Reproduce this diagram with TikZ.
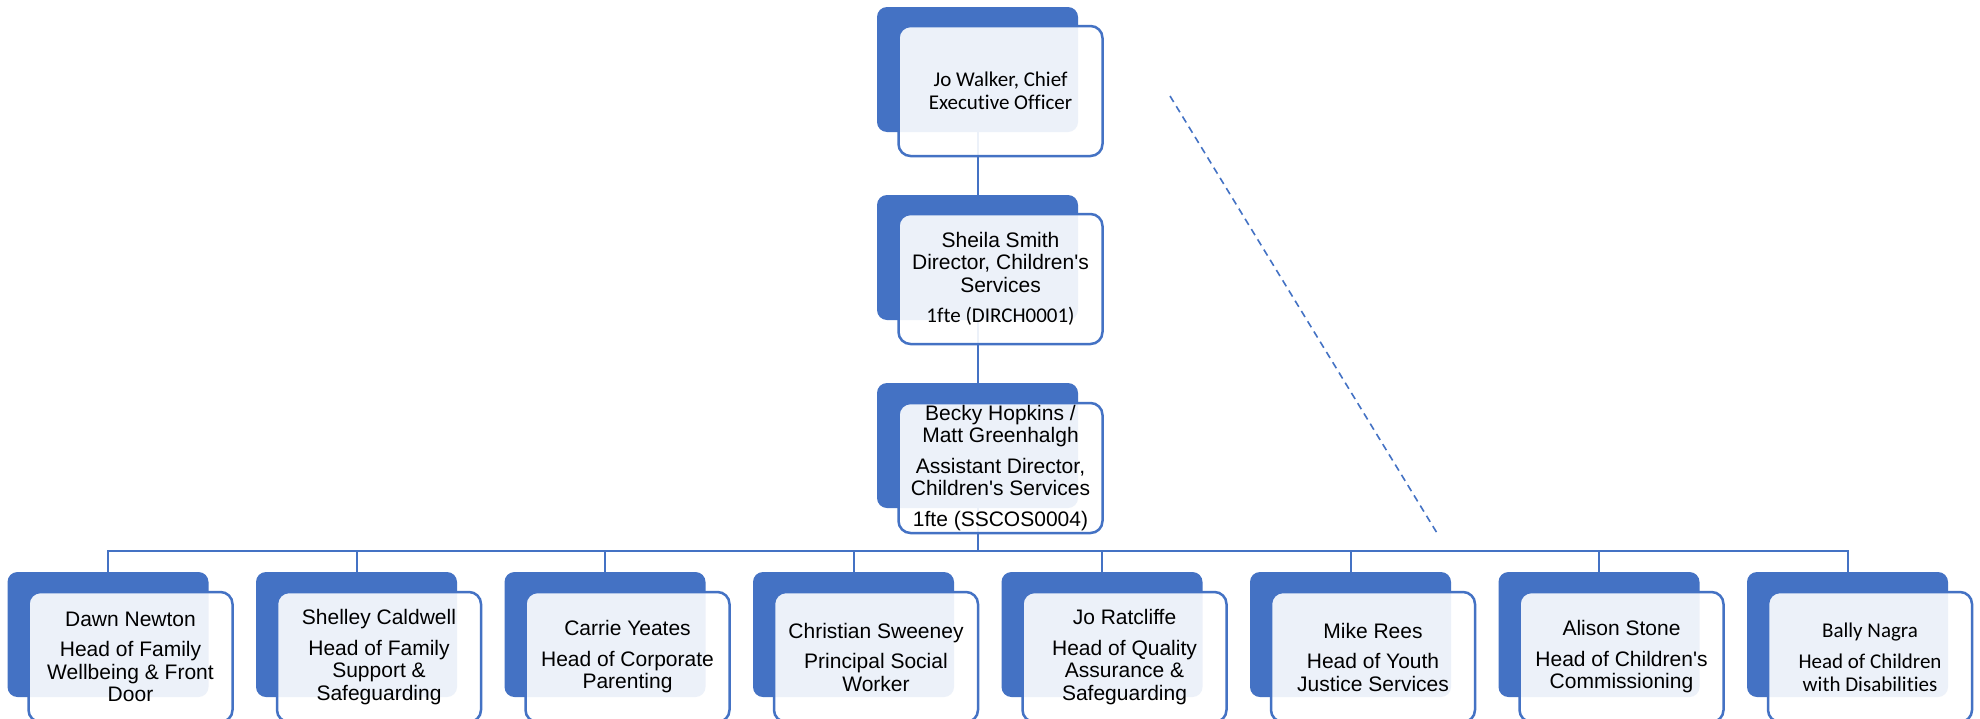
\documentclass[tikz,border=0pt]{standalone}
\usepackage{fontspec}
\setmainfont{Liberation Sans}[Ligatures=TeXOff]
\newfontfamily\calfont{Carlito}[Ligatures=NoCommon]
\definecolor{accent}{HTML}{4472C4}
\tikzset{
 backbox/.style={fill=accent, rounded corners=10pt, minimum width=201pt, minimum height=125pt, inner sep=0pt, outer sep=0pt},
 frontbox/.style={draw=accent, line width=2.5pt, fill=white, fill opacity=0.9, text opacity=1, rounded corners=12pt, minimum width=204pt, minimum height=130pt, inner sep=0pt, outer sep=0pt, align=center, font=\fontsize{21}{22.5}\selectfont},
 link/.style={draw=accent, line width=2pt},
 dashlink/.style={draw=accent, line width=1.6pt, dash pattern=on 7pt off 5pt}
}
\begin{document}
\begin{tikzpicture}[x=1pt,y=-1pt]
\clip (0,0) rectangle (1980,718);
\fill[white] (0,0) rectangle (1980,718);
% back boxes
\node[backbox] (b1) at (977.5,69.5) {};
\node[backbox] (b2) at (977.5,257.5) {};
\node[backbox] (b3) at (977.5,445.5) {};
\node[backbox] (c1) at (108,634.5) {};
\node[backbox] (c2) at (356.5,634.5) {};
\node[backbox] (c3) at (605,634.5) {};
\node[backbox] (c4) at (853.5,634.5) {};
\node[backbox] (c5) at (1102,634.5) {};
\node[backbox] (c6) at (1350.5,634.5) {};
\node[backbox] (c7) at (1599,634.5) {};
\node[backbox] (c8) at (1847.5,634.5) {};
% connectors
\coordinate (bus) at (977.5,551);
\draw[link] (b1.south) -- (b2.north);
\draw[link] (b2.south) -- (b3.north);
\draw[link] (b3.south) -- (bus);
\foreach \i in {1,...,8} { \draw[link] (bus) -| (c\i.north); }
\coordinate (d1) at (1170,96);
\coordinate (d2) at (1437,533);
\draw[dashlink] (d1) -- (d2);
% front boxes
\node[frontbox, font=\calfont\fontsize{21}{23}\selectfont] (f1) at (1000.5,91) {Jo Walker, Chief\\Executive Officer};
\node[frontbox] (f2) at (1000.5,279) {Sheila Smith\\Director, Children's\\Services\\[8pt]\calfont 1fte (DIRCH0001)};
\node[frontbox] (f3) at (1000.5,468) {Becky Hopkins /\\Matt Greenhalgh\\[8pt]Assistant Director,\\Children's Services\\[8pt]1fte (SSCOS0004)};
\node[frontbox] (g1) at (130.5,657) {Dawn Newton\\[8pt]Head of Family\\Wellbeing \& Front\\Door};
\node[frontbox] (g2) at (379,657) {Shelley Caldwell\\[8pt]Head of Family\\Support \&\\Safeguarding};
\node[frontbox] (g3) at (627.5,657) {Carrie Yeates\\[8pt]Head of Corporate\\Parenting};
\node[frontbox] (g4) at (876,657) {Christian Sweeney\\[8pt]Principal Social\\Worker};
\node[frontbox] (g5) at (1124.5,657) {Jo Ratcliffe\\[8pt]Head of Quality\\Assurance \&\\Safeguarding};
\node[frontbox] (g6) at (1373,657) {Mike Rees\\[8pt]Head of Youth\\Justice Services};
\node[frontbox] (g7) at (1621.5,657) {Alison Stone\\[8pt]Head of Children's\\Commissioning};
\node[frontbox, font=\calfont\fontsize{21}{23}\selectfont] (g8) at (1870,657) {Bally Nagra\\[8pt]Head of Children\\with Disabilities};
\end{tikzpicture}
\end{document}
